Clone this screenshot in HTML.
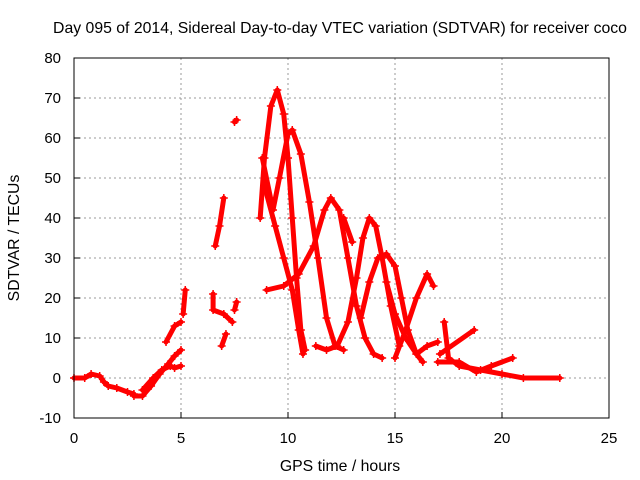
<!DOCTYPE html>
<html><head><meta charset="utf-8"><style>
body{margin:0;background:#fff}
svg{display:block;font-family:"Liberation Sans",sans-serif;font-size:15px}
</style></head><body>
<svg id="chart" width="640" height="480" viewBox="0 0 640 480">
<text x="340" y="33" text-anchor="middle" font-size="15.8">Day 095 of 2014, Sidereal Day-to-day VTEC variation (SDTVAR) for receiver coco</text>
<text x="340" y="471" text-anchor="middle" font-size="15.8">GPS time / hours</text>
<text transform="translate(19,238) rotate(-90)" text-anchor="middle" font-size="15.8">SDTVAR / TECUs</text>
<g id="grid"></g><g id="ticks"></g><g id="marks"></g>
<rect x="74" y="58" width="535" height="360" fill="none" stroke="#000" stroke-width="1"/>
</svg>
<script>
const xTicks=[0,5,10,15,20,25];
const yTicks=[-10,0,10,20,30,40,50,60,70,80];
const track1=[[0,0],[0.5,0],[0.8,1],[1.2,0.5],[1.4,-1],[1.6,-2],[2,-2.5],[2.5,-3.5],[2.8,-4]];
const track2=[[2.8,-4.5],[3.2,-4.5],[3.6,-2],[4,1],[4.4,3.5],[4.7,5.5],[5,7]];
const track3=[[3.2,-3],[3.7,0],[4.1,2],[4.5,3],[4.7,2.5],[5,3]];
const track4=[[4.3,9],[4.7,13],[5,14]];
const track5=[[5.1,16],[5.2,22]];
const track6=[[6.6,33],[6.8,38],[7,45]];
const track7=[[7.5,64],[7.6,64.5]];
const track8=[[6.5,21],[6.5,17],[7,16],[7.4,14]];
const track9=[[6.9,8],[7.1,11]];
const track10=[[7.5,17],[7.6,19]];
const trackA=[[8.7,40],[8.9,55],[9.2,68],[9.5,72],[9.8,66],[10.0,55],[10.2,40],[10.4,25],[10.6,12],[10.8,7]];
const trackB=[[8.8,55],[9.3,42],[9.6,50],[10.0,61],[10.2,62],[10.6,56],[11.0,44],[11.4,30],[11.8,15],[12.2,8],[12.6,7]];
const trackC=[[9.0,22],[9.8,23],[10.5,26],[11.2,33],[11.7,42],[12.0,45],[12.4,42],[12.8,30],[13.2,18],[13.6,10],[14.0,6],[14.4,5]];
const trackD=[[8.9,48],[9.4,38],[9.8,30],[10.2,22],[10.5,12],[10.7,6]];
const trackE=[[11.3,8],[11.8,7],[12.3,8],[12.8,14],[13.2,25],[13.5,35],[13.8,40],[14.1,38],[14.4,30],[14.8,18],[15.2,8]];
const trackG=[[13.4,15],[13.8,24],[14.2,30],[14.6,31],[15.0,28],[15.3,20],[15.6,12],[16.0,6],[16.3,4]];
const trackH=[[15.0,5],[15.5,12],[16.0,20],[16.5,26],[16.8,23]];
const trackI=[[14.6,24],[15.0,16],[15.5,10],[16.0,6],[16.5,8],[17.0,9]];
const trackJ=[[17.3,14],[17.5,5],[18,3],[19,2],[20,1],[21,0],[22.7,0]];
const trackK=[[17.0,4],[18.0,4],[18.8,1.5],[19.5,3],[20.5,5]];
const trackL=[[17.1,6],[18.7,12]];
const trackM=[[12.6,40],[13.0,34]];
const tracks=[track1,track2,track3,track4,track5,track6,track7,track8,track9,track10,trackA,trackB,trackC,trackD,trackE,trackG,trackH,trackI,trackJ,trackK,trackL,trackM];
const NS='http://www.w3.org/2000/svg';
const X=t=>74+t*(535/25), Y=v=>378-v*4;
const grid=document.getElementById('grid'),ticks=document.getElementById('ticks'),marks=document.getElementById('marks');
function mk(tag,attrs,parent){const e=document.createElementNS(NS,tag);for(const k in attrs)e.setAttribute(k,attrs[k]);parent.appendChild(e);return e;}
xTicks.forEach(t=>{
 if(t>0&&t<25){const g=mk('line',{x1:X(t),x2:X(t),y1:58,y2:418,stroke:'#999','stroke-dasharray':'2,3'},grid);
 
 }
 const tk=mk('line',{x1:X(t),x2:X(t),y1:418,y2:412,stroke:'#000'},ticks);
 
 
 const l=mk('text',{x:X(t),y:443,'text-anchor':'middle'},ticks);l.textContent=t;
 
 
});
yTicks.forEach(v=>{
 if(v>-10&&v<80){const g=mk('line',{x1:74,x2:609,y1:Y(v),y2:Y(v),stroke:'#999','stroke-dasharray':'2,3'},grid);
 
 }
 const tk=mk('line',{x1:74,x2:80,y1:Y(v),y2:Y(v),stroke:'#000'},ticks);
 
 
 const l=mk('text',{x:61,y:Y(v)+5,'text-anchor':'end'},ticks);l.textContent=v;
 
 
});
tracks.forEach(tr=>{
 const p=mk('polyline',{points:tr.map(d=>X(d[0])+','+Y(d[1])).join(' '),fill:'none',stroke:'#f00','stroke-width':5,'stroke-linejoin':'round','stroke-linecap':'round'},marks);
 
 
 tr.forEach(d=>{
  const m=mk('path',{d:`M${X(d[0])-4},${Y(d[1])}h8M${X(d[0])},${Y(d[1])-4}v8`,stroke:'#f00','stroke-width':1.5},marks);
  
  
 });
});
</script>
</body></html>
